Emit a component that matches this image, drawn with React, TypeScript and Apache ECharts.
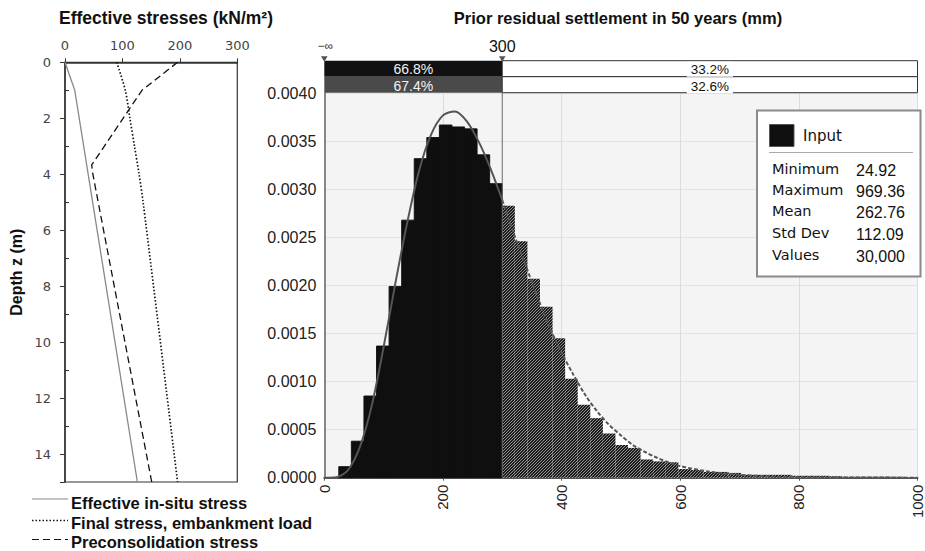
import React, { useEffect, useRef } from 'react';
import * as echarts from 'echarts';

// ---------- Left panel: stress profiles ----------
const insituDepth = [0, 1, 15];
const insituStress = [0, 17, 126];
const finalDepth = [0, 1, 2, 3, 4, 5, 15];
const finalStress = [90, 105, 113, 121, 129, 136, 196];
const preconDepth = [0, 1, 3.67, 4, 15];
const preconStress = [196, 134, 46.5, 48.5, 151];
const leftLegend = ['Effective in-situ stress', 'Final stress, embankment load', 'Preconsolidation stress'];

// ---------- Right panel: histogram ----------
const binStart = 24.4;
const binWidth = 21.2;
const splitValue = 300;
const binDensity = [
  0.000115, 0.00038, 0.00085, 0.00137, 0.00199, 0.00268, 0.00332, 0.00354, 0.00367, 0.00365,
  0.00363, 0.00336, 0.00306, 0.00283, 0.00246, 0.00207, 0.00178, 0.00145, 0.00103, 0.00076,
  0.00062, 0.00046, 0.00034, 0.00031, 0.00019, 0.00017, 0.00016, 0.00009, 0.00008, 0.00006,
  0.00006, 0.00005, 0.00003, 0.00003, 0.00003, 0.00003, 0.00002, 0.00002, 0.00002, 0.000015,
  0.00001, 0.00001, 0.00001, 0.00001, 0.00001,
];
const curveX = [0, 20, 40, 60, 80, 100, 120, 140, 160, 180, 200, 220, 240, 260, 280, 300, 320, 340, 360, 380,
  400, 420, 440, 460, 480, 500, 520, 540, 560, 580, 600, 650, 700, 750, 800, 850, 900, 1000];
const curveY = [0, 0.000005, 0.00008, 0.00032, 0.00075, 0.00136, 0.00203, 0.00266, 0.0032, 0.00357,
  0.00377, 0.00381, 0.00371, 0.0035, 0.00322, 0.00289, 0.00253, 0.0022, 0.00187, 0.00156,
  0.0013, 0.00107, 0.00086, 0.00069, 0.00055, 0.00044, 0.00034, 0.00027, 0.00021, 0.00016,
  0.00012, 0.000062, 0.00003, 0.000015, 0.000007, 0.000003, 0.0000015, 0.0000003];

const bandLeft = ['66.8%', '67.4%'];
const bandRight = ['33.2%', '32.6%'];
const bandMarkers = ['\u2212\u221e', '300'];

const statLabels = ['Minimum', 'Maximum', 'Mean', 'Std Dev', 'Values'];
const statValues = ['24.92', '969.36', '262.76', '112.09', '30,000'];
const seriesName = 'Input';

const leftTitle = 'Effective stresses (kN/m\u00b2)';
const rightTitle = 'Prior residual settlement in 50 years (mm)';

const SANS = '"Liberation Sans", Arial, sans-serif';
const VERD = '"DejaVu Sans", Verdana, sans-serif';

function makeHatch(): HTMLCanvasElement {
  const c = document.createElement('canvas');
  c.width = 3; c.height = 3;
  const ctx = c.getContext('2d')!;
  ctx.fillStyle = '#1c1c1c';
  ctx.fillRect(0, 0, 3, 3);
  ctx.strokeStyle = '#a0a0a0';
  ctx.lineWidth = 0.9;
  ctx.beginPath();
  ctx.moveTo(0, 3); ctx.lineTo(3, 0);
  ctx.moveTo(-1, 1); ctx.lineTo(1, -1);
  ctx.moveTo(2, 4); ctx.lineTo(4, 2);
  ctx.stroke();
  return c;
}

export default function App() {
  const ref = useRef<HTMLDivElement>(null);
  useEffect(() => {
    if (!ref.current) return;
    const chart = echarts.init(ref.current, undefined, { renderer: 'svg' });
    const hatch = { image: makeHatch(), repeat: 'repeat' } as any;

    const bins = binDensity.map((d, k) => {
      const x0 = binStart + k * binWidth;
      return [x0, x0 + binWidth, d, x0 + binWidth <= splitValue + 0.01 ? 0 : 1];
    });
    const curve = curveX.map((x, i) => [x, curveY[i]]);
    const curveLeft = curve.filter((p) => p[0] <= splitValue);
    const curveRight = curve.filter((p) => p[0] >= splitValue);

    const legendY = [503, 523, 542];
    const lineY = [499, 520.5, 539.5];
    const lineDashes: any[] = [null, [1.5, 2], [7, 4]];
    const lineColors = ['#888', '#111', '#111'];

    const graphic: any[] = [
      { type: 'text', style: { text: leftTitle, x: 166, y: 18, align: 'center', verticalAlign: 'middle', font: `bold 17.5px ${SANS}`, fill: '#111' } },
      { type: 'text', style: { text: rightTitle, x: 618, y: 18, align: 'center', verticalAlign: 'middle', font: `bold 16.5px ${SANS}`, fill: '#111' } },
    ];
    leftLegend.forEach((t, i) => {
      graphic.push({ type: 'line', shape: { x1: 32, y1: lineY[i], x2: 68, y2: lineY[i] }, style: { stroke: lineColors[i], lineWidth: i === 1 ? 1.5 : 1.2, lineDash: lineDashes[i] } });
      graphic.push({ type: 'text', style: { text: t, x: 71, y: legendY[i], verticalAlign: 'middle', font: `bold 16.5px ${SANS}`, fill: '#111' } });
    });
    // Stats legend box
    graphic.push({ type: 'rect', shape: { x: 757, y: 110.5, width: 163.5, height: 166 }, style: { fill: '#fff', stroke: '#8a8a8a', lineWidth: 2 }, z: 100 });
    graphic.push({ type: 'rect', shape: { x: 769.5, y: 124.5, width: 24.5, height: 22 }, style: { fill: '#0f0f0f', stroke: '#555', lineWidth: 1 }, z: 101 });
    graphic.push({ type: 'text', style: { text: seriesName, x: 803, y: 136, verticalAlign: 'middle', font: `15px ${VERD}`, fill: '#111' }, z: 101 });
    graphic.push({ type: 'line', shape: { x1: 769, y1: 152.5, x2: 913, y2: 152.5 }, style: { stroke: '#aaa', lineWidth: 1 }, z: 101 });
    const rowY = [168.5, 189.5, 211, 233, 254.5];
    statLabels.forEach((t, i) => {
      graphic.push({ type: 'text', style: { text: t, x: 772, y: rowY[i], verticalAlign: 'middle', font: `14.5px ${VERD}`, fill: '#111' }, z: 101 });
      graphic.push({ type: 'text', style: { text: statValues[i], x: 856, y: rowY[i] + 1.5, verticalAlign: 'middle', font: `16px ${SANS}`, fill: '#111' }, z: 101 });
    });

    const option: any = {
      animation: false,
      textStyle: { fontFamily: SANS },
      grid: [
        { left: 65, top: 62.3, width: 172.3, height: 419.7, show: true, borderColor: '#333', borderWidth: 1.2, backgroundColor: 'transparent' },
        { left: 324.3, top: 93.3, width: 596.5, height: 384.4, show: true, borderWidth: 0, backgroundColor: '#f4f4f4' },
      ],
      xAxis: [
        {
          gridIndex: 0, type: 'value', position: 'top', min: 0, max: 300, interval: 100,
          axisLine: { show: true, lineStyle: { color: '#333', width: 1.5 } },
          axisTick: { show: true, length: 4, lineStyle: { color: '#333' } },
          axisLabel: { margin: 10, fontSize: 13, fontFamily: VERD, color: '#444' },
          splitLine: { show: false },
        },
        {
          gridIndex: 1, type: 'value', min: 0, max: 1000, interval: 200,
          axisLine: { show: true, onZero: false, lineStyle: { color: '#555', width: 2 } },
          axisTick: { show: true, length: 3, lineStyle: { color: '#555' } },
          axisLabel: { rotate: 90, margin: 7, fontSize: 15, color: '#222', formatter: (v: number) => String(v) },
          splitLine: { show: true, lineStyle: { color: '#dcdcdc', width: 1 } },
        },
      ],
      yAxis: [
        {
          gridIndex: 0, type: 'value', inverse: true, min: 0, max: 15, interval: 2,
          axisLine: { show: true, lineStyle: { color: '#333', width: 1.5 } },
          axisTick: { show: true, length: 5, lineStyle: { color: '#333' } },
          minorTick: { show: true, splitNumber: 2, length: -4, lineStyle: { color: '#333' } },
          axisLabel: { margin: 14, fontSize: 13, fontFamily: VERD, color: '#444', showMaxLabel: false },
          splitLine: { show: false },
          name: 'Depth z (m)', nameLocation: 'middle', nameGap: 41, nameRotate: 90,
          nameTextStyle: { fontSize: 16, fontWeight: 'bold', color: '#111', fontFamily: SANS },
        },
        {
          gridIndex: 1, type: 'value', min: 0, max: 0.004, interval: 0.0005,
          axisLine: { show: true, onZero: false, lineStyle: { color: '#888', width: 2 } },
          axisTick: { show: false },
          axisLabel: { margin: 8, fontSize: 16, color: '#222', formatter: (v: number) => v.toFixed(4) },
          splitLine: { show: true, lineStyle: { color: '#e2e2e2', width: 1 } },
        },
      ],
      graphic,
      series: [
        {
          type: 'line', xAxisIndex: 0, yAxisIndex: 0, silent: true, showSymbol: false,
          data: insituStress.map((s, i) => [s, insituDepth[i]]),
          lineStyle: { color: '#888', width: 1.3 },
        },
        {
          type: 'line', xAxisIndex: 0, yAxisIndex: 0, silent: true, showSymbol: false, smooth: 0.3,
          data: finalStress.map((s, i) => [s, finalDepth[i]]),
          lineStyle: { color: '#111', width: 1.7, type: [1.5, 2] },
        },
        {
          type: 'line', xAxisIndex: 0, yAxisIndex: 0, silent: true, showSymbol: false,
          data: preconStress.map((s, i) => [s, preconDepth[i]]),
          lineStyle: { color: '#111', width: 1.3, type: [7, 4] },
        },
        {
          type: 'line', xAxisIndex: 1, yAxisIndex: 1, silent: true, showSymbol: false, smooth: 0.3, z: 2,
          data: curveRight, lineStyle: { width: 0, opacity: 0 }, areaStyle: { color: '#ffffff', opacity: 1 },
        },
        {
          type: 'custom', xAxisIndex: 1, yAxisIndex: 1, silent: true, z: 3,
          encode: { x: [0, 1], y: 2 },
          data: bins,
          renderItem: (params: any, api: any) => {
            const x0 = api.value(0), x1 = api.value(1), h = api.value(2), kind = api.value(3);
            const p0 = api.coord([x0, h]);
            const p1 = api.coord([x1, 0]);
            const fill = kind === 0 ? '#0f0f0f' : hatch;
            return {
              type: 'rect',
              shape: { x: p0[0], y: p0[1], width: p1[0] - p0[0], height: p1[1] - p0[1] },
              style: { fill, stroke: kind === 0 ? '#0f0f0f' : null, lineWidth: 0.9 },
            };
          },
        },
        {
          type: 'line', xAxisIndex: 1, yAxisIndex: 1, silent: true, showSymbol: false, smooth: 0.3, z: 4,
          data: curveLeft, lineStyle: { color: '#555', width: 2 },
        },
        {
          type: 'line', xAxisIndex: 1, yAxisIndex: 1, silent: true, showSymbol: false, smooth: 0.3, z: 4,
          data: curveRight, lineStyle: { color: '#555', width: 2, type: [4, 2] },
        },
        {
          type: 'custom', xAxisIndex: 1, yAxisIndex: 1, silent: true, z: 5, clip: false,
          encode: { x: 0, y: 1 },
          data: [[splitValue, 0]],
          renderItem: (params: any, api: any) => {
            const cs = params.coordSys;
            const xs = api.coord([api.value(0), 0])[0];
            const left = cs.x, right = cs.x + cs.width;
            const top = cs.y - 32.6, rowH = 16;
            const font = `13.5px ${SANS}`;
            const tri = (cx: number) => ({
              type: 'polygon', shape: { points: [[cx - 3.3, top - 4.5], [cx + 3.3, top - 4.5], [cx, top + 1]] },
              style: { fill: '#555' },
            });
            return {
              type: 'group',
              children: [
                { type: 'rect', shape: { x: left, y: top, width: xs - left, height: rowH }, style: { fill: '#111' } },
                { type: 'rect', shape: { x: left, y: top + rowH, width: xs - left, height: rowH }, style: { fill: '#4a4a4a' } },
                { type: 'rect', shape: { x: xs, y: top, width: right - xs, height: rowH }, style: { fill: '#fff', stroke: '#333', lineWidth: 1 } },
                { type: 'rect', shape: { x: xs, y: top + rowH, width: right - xs, height: rowH }, style: { fill: '#fff', stroke: '#333', lineWidth: 1 } },
                { type: 'text', style: { text: bandLeft[0], x: (left + xs) / 2, y: top + 8.5, align: 'center', verticalAlign: 'middle', font: `14px ${SANS}`, fill: '#f2f2f2' } },
                { type: 'text', style: { text: bandLeft[1], x: (left + xs) / 2, y: top + rowH + 9.5, align: 'center', verticalAlign: 'middle', font: `14px ${SANS}`, fill: '#f2f2f2' } },
                { type: 'text', style: { text: bandRight[0], x: (xs + right) / 2, y: top + 8.5, align: 'center', verticalAlign: 'middle', font, fill: '#111', backgroundColor: '#fff', padding: [1, 4, 0, 4] } },
                { type: 'text', style: { text: bandRight[1], x: (xs + right) / 2, y: top + rowH + 9.3, align: 'center', verticalAlign: 'middle', font, fill: '#111', backgroundColor: '#fff', padding: [1, 4, 0, 4] } },
                { type: 'line', shape: { x1: xs, y1: top + 2 * rowH, x2: xs, y2: cs.y + cs.height }, style: { stroke: '#6a6a6a', lineWidth: 1 } },
                tri(left), tri(xs),
                { type: 'text', style: { text: bandMarkers[0], x: left + 1, y: top - 14.5, align: 'center', verticalAlign: 'middle', font: `12px ${SANS}`, fill: '#333' } },
                { type: 'text', style: { text: bandMarkers[1], x: xs, y: top - 14, align: 'center', verticalAlign: 'middle', font: `16px ${SANS}`, fill: '#111' } },
              ],
            };
          },
        },
      ],
    };
    chart.setOption(option);
    return () => chart.dispose();
  }, []);
  return <div ref={ref} style={{ position: 'absolute', left: 0, top: 0, width: 925, height: 551, background: '#fff' }} />;
}
